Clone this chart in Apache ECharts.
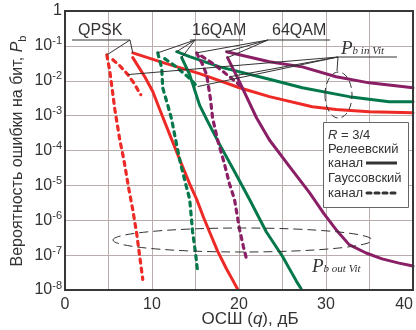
<!DOCTYPE html>
<html><head><meta charset="utf-8">
<script src="https://cdn.jsdelivr.net/npm/echarts@6/dist/echarts.min.js"></script>
<style>html,body{margin:0;padding:0;background:#fff}#c{width:416px;height:330px}</style>
</head><body><div id="c"></div>
<script>
// ---- data: [SNR dB, BER] ----
const qpskGaussIn  = [[5.50,4.0e-2],[6.30,2.7e-2],[7.22,1.5e-2],[7.91,8.7e-3],[8.37,5.5e-3],[8.71,4.0e-3]];
const qpskGaussOut = [[4.81,5.5e-2],[5.16,1.8e-2],[5.73,1.5e-3],[6.30,2.0e-4],[6.76,5.5e-5],[7.34,7.8e-6],[7.79,2.0e-6],[8.25,4.0e-7],[8.60,8.7e-8],[8.94,2.0e-8]];
const qpskRayIn    = [[7.79,6.3e-2],[11.46,3.2e-2],[15.47,1.6e-2],[20.06,6.3e-3],[23.50,3.5e-3],[28.42,1.8e-3],[31.17,1.5e-3],[34.96,1.3e-3],[40,1.2e-3]];
const qpskRayOut   = [[7.79,4.6e-2],[9.17,1.3e-2],[10.09,4.9e-3],[10.89,1.5e-3],[12.03,2.9e-4],[13.18,5.5e-5],[14.33,1.1e-5],[15.13,4.0e-6],[15.93,1.2e-6],[16.62,4.6e-7],[17.54,1.3e-7],[18.57,4.0e-8],[19.26,1.95e-8],[19.83,1.07e-8]];
const qam16GaussIn  = [[11.46,4.3e-2],[12.61,2.7e-2],[13.98,1.4e-2],[15.24,6.8e-3]];
const qam16GaussOut = [[10.66,6.3e-2],[11.12,2.3e-2],[11.23,6.3e-3],[11.81,2.0e-3],[12.26,7.8e-4],[12.72,2.0e-4],[13.30,4.0e-5],[13.87,1.1e-5],[14.33,4.0e-6],[14.67,4.6e-7],[15.01,1.1e-7],[15.24,3.5e-8]];
const qam16RayIn    = [[12.84,6.8e-2],[14.33,4.9e-2],[17.77,2.5e-2],[23.50,1.1e-2],[27.28,6.3e-3],[32.66,3.5e-3],[37.25,2.5e-3],[40,2.5e-3]];
const qam16RayOut   = [[13.41,4.6e-2],[14.33,1.5e-2],[15.47,2.0e-3],[16.28,7.8e-4],[17.77,1.5e-4],[19.48,2.5e-5],[21.20,4.0e-6],[23.15,4.6e-7],[24.99,9.3e-8],[26.13,2.9e-8],[26.59,1.8e-8],[27.16,1.07e-8]];
const qam64GaussIn  = [[15.70,5.1e-2],[17.19,2.9e-2],[18.91,1.3e-2],[20.29,6.8e-3]];
const qam64GaussOut = [[15.13,6.3e-2],[15.82,2.9e-2],[16.28,1.5e-2],[16.73,2.9e-3],[16.96,8.7e-4],[17.54,2.0e-4],[18.34,4.0e-5],[18.91,1.1e-5],[19.48,4.0e-6],[20.06,5.5e-7],[20.52,1.7e-7],[20.86,7.8e-8]];
const qam64RayIn    = [[18.57,6.8e-2],[23.50,3.5e-2],[27.28,2.5e-2],[31.17,1.3e-2],[34.96,8.7e-3],[40,6.3e-3]];
const qam64RayOut   = [[18.68,4.6e-2],[20.06,9.3e-3],[22.01,8.7e-4],[23.50,2.0e-4],[25.79,3.5e-5],[28.08,6.3e-6],[29.80,1.5e-6],[31.29,4.9e-7],[32.66,2.0e-7],[34.61,1.15e-7],[36.45,7.8e-8],[38.40,5.9e-8],[40,4.9e-8]];

const xTickLabels = [0, 10, 20, 30, 40];
const modLabels = ['QPSK', '16QAM', '64QAM'];
const legendLines = ['R = 3/4', 'Релеевский', 'канал', 'Гауссовский', 'канал'];

const RED = '#ee2a26', GREEN = '#04784a', PURPLE = '#8a1f66', INK = '#333';
const FONT = '"Liberation Sans", Arial, sans-serif';
const SERIF = '"Liberation Serif", "Times New Roman", serif';

function solid(name, data, color) {
  return { name, type: 'line', data, symbol: 'none', clip: true, z: 3,
    lineStyle: { color, width: 3, type: 'solid', cap: 'round', join: 'round' } };
}
function dashed(name, data, color) {
  return { name, type: 'line', data, symbol: 'none', clip: true, z: 3,
    lineStyle: { color, width: 3.2, type: [4, 5], cap: 'round', join: 'round' } };
}

const chart = echarts.init(document.getElementById('c'), null, { renderer: 'canvas' });
chart.setOption({
  animation: false,
  backgroundColor: '#fff',
  textStyle: { fontFamily: FONT },
  grid: { left: 65, right: 2, top: 11, bottom: 40, show: true, borderColor: '#383838', borderWidth: 2, backgroundColor: 'transparent', z: 10 },
  xAxis: {
    type: 'value', min: 0, max: 40, interval: 5,
    axisLine: { show: false }, axisTick: { show: false },
    splitLine: { show: true, lineStyle: { color: '#b9aeab', width: 1 } },
    axisLabel: {
      fontSize: 16, color: INK, fontFamily: FONT, margin: 7, alignMaxLabel: 'right',
      formatter: v => (xTickLabels.indexOf(v) >= 0 ? String(v) : '')
    }
  },
  yAxis: {
    type: 'log', logBase: 10, min: 1e-8, max: 1, splitNumber: 8,
    axisLine: { show: false }, axisTick: { show: false },
    splitLine: { show: true, lineStyle: { color: '#b9aeab', width: 1 } },
    axisLabel: {
      margin: 3, color: INK, fontFamily: FONT,
      formatter: v => {
        const e = Math.round(Math.log10(v));
        return e === 0 ? '{a|1}' : '{a|10}{b|' + e + '}';
      },
      rich: {
        a: { fontSize: 16, lineHeight: 20, color: INK, fontFamily: FONT },
        b: { fontSize: 11, lineHeight: 11, verticalAlign: 'top', color: INK, fontFamily: FONT }
      }
    }
  },
  series: [
    dashed('QPSK Gauss in', qpskGaussIn, RED),
    dashed('QPSK Gauss out', qpskGaussOut, RED),
    solid('QPSK Rayleigh in', qpskRayIn, RED),
    solid('QPSK Rayleigh out', qpskRayOut, RED),
    dashed('16QAM Gauss in', qam16GaussIn, GREEN),
    dashed('16QAM Gauss out', qam16GaussOut, GREEN),
    solid('16QAM Rayleigh in', qam16RayIn, GREEN),
    solid('16QAM Rayleigh out', qam16RayOut, GREEN),
    dashed('64QAM Gauss in', qam64GaussIn, PURPLE),
    dashed('64QAM Gauss out', qam64GaussOut, PURPLE),
    solid('64QAM Rayleigh in', qam64RayIn, PURPLE),
    solid('64QAM Rayleigh out', qam64RayOut, PURPLE)
  ]
});

// ---- annotations ----
const P = d => chart.convertToPixel({ gridIndex: 0 }, d);
const g = [];
function seg(a, b, extra) {
  g.push(Object.assign({ type: 'line', silent: true, z: 20,
    shape: { x1: a[0], y1: a[1], x2: b[0], y2: b[1] },
    style: { stroke: INK, lineWidth: 1 } }, extra || {}));
}
function txt(x, y, text, style) {
  g.push({ type: 'text', silent: true, z: 30, x, y,
    style: Object.assign({ text, fill: INK, font: '16px ' + FONT }, style || {}) });
}
txt(78, 23, modLabels[0]);
seg([72, 40], [130, 40]);
[qpskGaussOut[0], qpskRayIn[0]].forEach(d => seg([130, 40], P(d)));
txt(192, 23, modLabels[1]);
seg([190, 40], [243, 40]);
[qam16GaussOut[0], qam16RayIn[0], qam16RayOut[0]].forEach(d => seg([195, 40], P(d)));
txt(272, 23, modLabels[2]);
seg([268, 40], [330, 40]);
[qam64GaussOut[0], qam64RayIn[0], qam64RayOut[0]].forEach(d => seg([268, 40], P(d)));
g.push({ type: 'text', silent: true, z: 30, x: 341, y: 39,
  style: { text: '{p|P}{s|b in Vit}', fill: INK,
    rich: { p: { fontFamily: SERIF, fontStyle: 'italic', fontSize: 19, lineHeight: 18, verticalAlign: 'top', fill: INK },
            s: { fontFamily: SERIF, fontStyle: 'italic', fontSize: 11, lineHeight: 11, verticalAlign: 'bottom', fill: INK } } } });
seg([338, 57], [397, 57]);
[qpskGaussIn[2], qam16GaussIn[3], qam64GaussIn[2]].forEach(d => seg([338, 57], P(d)));
seg([338, 57], [337, 71]);
g.push({ type: 'ellipse', silent: true, z: 20, shape: { cx: 338.5, cy: 95, rx: 13.5, ry: 23 },
  style: { fill: 'none', stroke: INK, lineWidth: 1, lineDash: [7, 4] } });
g.push({ type: 'ellipse', silent: true, z: 20, shape: { cx: 242.5, cy: 240, rx: 129.5, ry: 12 },
  style: { fill: 'none', stroke: INK, lineWidth: 1, lineDash: [9, 5] } });
g.push({ type: 'text', silent: true, z: 30, x: 312, y: 257,
  style: { text: '{p|P}{s|b out Vit}', fill: INK,
    rich: { p: { fontFamily: SERIF, fontStyle: 'italic', fontSize: 19, lineHeight: 18, verticalAlign: 'top', fill: INK },
            s: { fontFamily: SERIF, fontStyle: 'italic', fontSize: 11, lineHeight: 11, verticalAlign: 'bottom', fill: INK } } } });
g.push({ type: 'rect', silent: true, z: 25, shape: { x: 323.5, y: 122.5, width: 85, height: 85 },
  style: { fill: '#fff', stroke: '#666', lineWidth: 1 } });
const ly = [135, 149, 163, 178, 193];
g.push({ type: 'text', silent: true, z: 30, x: 328, y: ly[0],
  style: { text: '{i|R} = 3/4', fill: INK, font: '13px ' + FONT, verticalAlign: 'middle',
    rich: { i: { fontStyle: 'italic', fontSize: 13, fontFamily: FONT, fill: INK } } } });
for (let i = 1; i < 5; i++) txt(328, ly[i], legendLines[i], { font: '13px ' + FONT, verticalAlign: 'middle' });
g.push({ type: 'line', silent: true, z: 30, shape: { x1: 366, y1: ly[2], x2: 397, y2: ly[2] },
  style: { stroke: '#333', lineWidth: 3 } });
g.push({ type: 'line', silent: true, z: 30, shape: { x1: 367, y1: ly[4], x2: 398, y2: ly[4] },
  style: { stroke: '#333', lineWidth: 3, lineDash: [4, 4], lineCap: 'round' } });
g.push({ type: 'text', silent: true, z: 30, x: 250, y: 319,
  style: { text: '{n|ОСШ (}{i|q}{n|), дБ}', align: 'center', verticalAlign: 'middle', fill: INK,
    rich: { n: { fontSize: 17, fontFamily: FONT, fill: INK }, i: { fontSize: 17, fontStyle: 'italic', fontFamily: FONT, fill: INK } } } });
g.push({ type: 'text', silent: true, z: 30, x: 18, y: 151, rotation: Math.PI / 2,
  style: { text: '{n|Вероятность ошибки на бит, }{p|P}{s|b}', align: 'center', verticalAlign: 'middle', fill: INK,
    rich: { n: { fontSize: 16, lineHeight: 20, fontFamily: FONT, fill: INK },
            p: { fontSize: 16, lineHeight: 20, fontStyle: 'italic', fontFamily: FONT, fill: INK },
            s: { fontSize: 11, lineHeight: 11, verticalAlign: 'bottom', fontFamily: FONT, fill: INK } } } });
chart.setOption({ graphic: { elements: g } });
</script></body></html>
